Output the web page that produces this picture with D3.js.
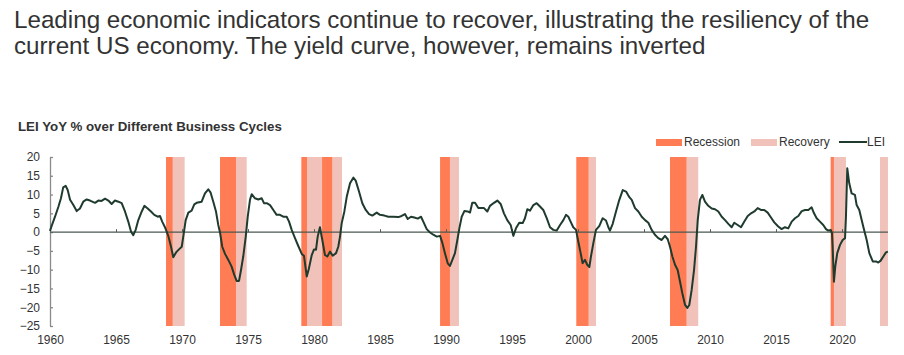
<!DOCTYPE html>
<html>
<head>
<meta charset="utf-8">
<script src="https://cdn.jsdelivr.net/npm/d3@7"></script>
<style>
  html, body { margin: 0; padding: 0; background: #fff; }
  svg { display: block; font-family: "Liberation Sans", Arial, sans-serif; }
</style>
</head>
<body>
<svg id="chart" width="904" height="355"></svg>
<script>
// ---------------- data ----------------
const titleLines = [
  "Leading economic indicators continue to recover, illustrating the resiliency of the",
  "current US economy. The yield curve, however, remains inverted"
];
const subtitle = "LEI YoY % over Different Business Cycles";

const xTicks = [1960, 1965, 1970, 1975, 1980, 1985, 1990, 1995, 2000, 2005, 2010, 2015, 2020];
const yTicks = [20, 15, 10, 5, 0, -5, -10, -15, -20, -25];

const recessionStart = [1968.79, 1972.88, 1979.04, 1980.61, 1989.55, 1999.87, 2006.97, 2019.14];
const recessionEnd   = [1969.30, 1974.09, 1979.47, 1981.39, 1990.30, 2000.81, 2008.23, 2019.39];
const recoveryStart  = [1969.30, 1974.09, 1979.47, 1981.39, 1990.30, 2000.81, 2008.23, 2019.39, 2022.88];
const recoveryEnd    = [1970.20, 1974.90, 1980.61, 1982.12, 1990.98, 2001.36, 2009.11, 2020.30, 2023.48];

const leiDates = [
  1960.0,1960.1,1960.38,1960.63,1960.83,1961.0,1961.19,1961.34,1961.52,1961.77,
  1962.02,1962.27,1962.52,1962.78,1963.03,1963.41,1963.66,1963.91,1964.17,1964.42,
  1964.67,1964.92,1965.18,1965.43,1965.68,1965.93,1966.14,1966.31,1966.49,1966.69,
  1966.95,1967.15,1967.4,1967.65,1967.9,1968.16,1968.33,1968.5,1968.71,1968.96,
  1969.17,1969.34,1969.55,1969.77,1969.98,1970.13,1970.28,1970.48,1970.73,1970.93,
  1971.11,1971.49,1971.74,1971.99,1972.17,1972.37,1972.58,1972.75,1972.88,1973.05,
  1973.26,1973.51,1973.76,1973.96,1974.14,1974.32,1974.47,1974.64,1974.83,1974.98,
  1975.15,1975.28,1975.53,1975.78,1976.04,1976.21,1976.42,1976.67,1976.92,1977.17,
  1977.42,1977.67,1977.93,1978.11,1978.31,1978.56,1978.81,1979.07,1979.24,1979.45,
  1979.62,1979.83,1980.0,1980.15,1980.28,1980.45,1980.63,1980.83,1981.01,1981.21,
  1981.42,1981.67,1981.84,1981.97,1982.1,1982.3,1982.48,1982.73,1982.98,1983.16,
  1983.41,1983.66,1983.92,1984.17,1984.42,1984.75,1985.0,1985.33,1985.63,1986.0,
  1986.39,1986.64,1986.89,1987.1,1987.35,1987.6,1987.86,1988.11,1988.28,1988.54,
  1988.79,1989.04,1989.3,1989.55,1989.72,1989.92,1990.13,1990.3,1990.48,1990.68,
  1990.86,1991.01,1991.19,1991.39,1991.64,1991.82,1991.99,1992.2,1992.45,1992.7,
  1992.88,1993.13,1993.33,1993.64,1993.89,1994.14,1994.39,1994.64,1994.9,1995.1,
  1995.3,1995.55,1995.81,1995.98,1996.16,1996.36,1996.62,1996.87,1997.12,1997.37,
  1997.63,1997.88,1998.13,1998.39,1998.64,1998.89,1999.09,1999.27,1999.44,1999.64,
  1999.85,2000.02,2000.2,2000.35,2000.53,2000.7,2000.86,2000.98,2001.16,2001.36,
  2001.61,2001.87,2002.12,2002.3,2002.42,2002.63,2002.88,2003.13,2003.39,2003.64,
  2003.89,2004.07,2004.32,2004.57,2004.83,2005.08,2005.33,2005.58,2005.83,2006.08,
  2006.34,2006.59,2006.8,2006.97,2007.15,2007.35,2007.55,2007.73,2007.9,2008.11,
  2008.28,2008.43,2008.61,2008.79,2008.94,2009.07,2009.24,2009.42,2009.62,2009.87,
  2010.13,2010.38,2010.63,2010.89,2011.14,2011.39,2011.64,2011.84,2012.1,2012.35,
  2012.6,2012.86,2013.11,2013.36,2013.61,2013.86,2014.11,2014.37,2014.62,2014.87,
  2015.17,2015.43,2015.68,2015.93,2016.19,2016.44,2016.69,2016.95,2017.2,2017.45,
  2017.7,2017.88,2018.08,2018.33,2018.58,2018.79,2018.96,2019.14,2019.24,2019.29,
  2019.39,2019.49,2019.64,2019.85,2020.05,2020.23,2020.3,2020.4,2020.55,2020.73,
  2020.98,2021.11,2021.31,2021.49,2021.67,2021.87,2022.07,2022.33,2022.58,2022.75,
  2022.93,2023.13,2023.33,2023.48
];
const leiValues = [
  0.3,1.4,4.1,6.7,9.0,11.9,12.3,11.2,8.6,7.2,
  5.6,6.3,8.1,8.7,8.4,7.8,8.4,8.3,8.9,8.4,
  7.5,8.4,8.1,7.7,5.5,2.8,0.1,-0.8,0.6,3.2,
  5.5,7.0,6.3,5.5,4.6,4.1,4.3,2.8,1.3,-1.0,
  -3.9,-6.7,-5.4,-4.6,-3.9,-0.4,3.2,5.2,5.7,7.4,
  7.8,8.1,10.3,11.4,10.5,8.1,5.4,1.9,-0.1,-3.9,
  -5.8,-7.4,-9.2,-11.4,-13.0,-13.0,-10.1,-6.5,-1.2,4.1,
  8.6,10.1,9.0,8.7,9.0,7.7,7.7,7.2,5.9,4.6,
  4.6,4.1,4.1,2.8,0.6,-1.6,-3.7,-5.8,-6.3,-11.8,
  -9.6,-6.1,-4.6,-4.7,-1.2,1.3,-2.1,-6.1,-6.5,-5.2,
  -6.3,-5.6,-3.9,-1.2,2.4,5.5,9.4,13.0,14.5,13.7,
  10.8,7.7,5.9,4.8,4.4,5.2,4.6,4.4,4.1,4.1,
  4.0,4.3,4.8,3.5,4.1,3.9,3.6,4.1,2.8,0.8,
  -0.1,-0.7,-1.2,-1.0,-2.8,-5.6,-8.3,-9.0,-7.4,-5.6,
  -2.1,1.0,4.1,5.6,5.5,5.2,7.8,7.8,6.4,6.4,
  6.4,5.5,7.0,7.8,8.4,7.5,5.0,3.2,1.9,-1.0,
  1.0,2.5,2.4,3.7,6.1,5.7,7.2,7.7,6.8,5.9,
  3.7,1.3,0.6,0.4,1.9,3.2,4.6,4.1,2.8,1.3,
  0.6,-2.5,-5.6,-8.3,-7.4,-8.7,-9.3,-6.5,-3.0,0.6,
  1.6,3.7,3.1,1.3,0.4,2.2,5.5,8.6,11.2,10.8,
  9.3,8.6,6.4,5.5,4.1,3.2,2.5,0.6,-0.7,-1.6,
  -2.1,-1.0,-1.9,-3.9,-6.5,-8.7,-10.1,-13.2,-16.2,-19.4,
  -20.2,-19.4,-15.4,-10.1,-3.9,3.2,8.6,9.9,8.1,7.0,
  6.3,6.1,5.5,4.1,3.2,2.2,1.3,2.5,1.9,1.3,
  2.8,4.3,5.0,5.5,6.4,5.9,5.9,5.2,3.9,2.6,
  1.5,0.8,1.3,1.0,2.8,3.7,4.3,5.6,5.9,5.9,
  6.6,5.0,3.7,2.8,1.9,0.8,0.4,0.6,-0.3,-3.9,
  -13.2,-9.2,-5.6,-3.4,-2.1,-1.6,4.1,17.0,13.0,10.3,
  9.9,7.2,5.9,3.2,0.6,-2.1,-5.6,-7.8,-7.8,-8.1,
  -7.6,-6.5,-5.4,-5.2
];

const legendItems = ["Recession", "Recovery", "LEI"];

// ---------------- style ----------------
const COL_REC = "#ff7c55";
const COL_RECOV = "#f0c2ba";
const COL_LINE = "#1f3b2e";
const COL_TEXT = "#333333";

const svg = d3.select("#chart");

// title
svg.append("g").selectAll("text").data(titleLines).join("text")
  .attr("x", 14).attr("y", (d, i) => 28 + i * 26)
  .attr("font-size", 24.2).attr("fill", "#333333")
  .text(d => d);

svg.append("text").attr("x", 18).attr("y", 131)
  .attr("font-size", 13.3).attr("font-weight", "bold").attr("fill", COL_TEXT)
  .text(subtitle);

// scales
const x = d3.scaleLinear().domain([1960, 2020]).range([50, 842]);
const y = d3.scaleLinear().domain([-25, 20]).range([326, 157]);

const plot = svg.append("g");

// bands
const recData = recessionStart.map((s, i) => ({ s, e: recessionEnd[i] }));
const recovData = recoveryStart.map((s, i) => ({ s, e: recoveryEnd[i] }));

plot.append("g").selectAll("rect").data(recovData).join("rect")
  .attr("x", d => x(d.s)).attr("width", d => x(d.e) - x(d.s))
  .attr("y", y(20)).attr("height", y(-25) - y(20))
  .attr("fill", COL_RECOV);
plot.append("g").selectAll("rect").data(recData).join("rect")
  .attr("x", d => x(d.s)).attr("width", d => x(d.e) - x(d.s))
  .attr("y", y(20)).attr("height", y(-25) - y(20))
  .attr("fill", COL_REC);

// y axis (ticks pointing inward)
const yAxis = svg.append("g").attr("transform", `translate(${x(1960)},0)`)
  .call(d3.axisLeft(y).tickValues(yTicks).tickSize(-3).tickSizeOuter(0).tickPadding(10));
yAxis.select(".domain").attr("stroke", "#8a8a8a").attr("stroke-width", 1.3);
yAxis.selectAll(".tick line").attr("stroke", "#8a8a8a").attr("stroke-width", 1.3);
yAxis.selectAll(".tick text").attr("font-size", 12).attr("fill", COL_TEXT)
  .attr("font-family", "Liberation Sans, Arial, sans-serif");

// zero line with small ticks
const zeroAxis = svg.append("g").attr("transform", `translate(0,${y(0)})`)
  .call(d3.axisTop(x).tickValues(xTicks.slice(1)).tickSize(3).tickSizeOuter(0).tickFormat(""));
zeroAxis.select(".domain").remove();
zeroAxis.selectAll(".tick line").attr("stroke", "#56635c").attr("stroke-width", 1);
svg.append("line")
  .attr("x1", x(1960)).attr("x2", x(2023.48))
  .attr("y1", y(0)).attr("y2", y(0))
  .attr("stroke", "#4a5851").attr("stroke-width", 1.3);

// x labels
const xAxis = svg.append("g").attr("transform", `translate(0,${y(-25)})`)
  .call(d3.axisBottom(x).tickValues(xTicks).tickSize(0).tickPadding(9).tickFormat(d3.format("d")));
xAxis.select(".domain").remove();
xAxis.selectAll(".tick text").attr("font-size", 12).attr("fill", COL_TEXT)
  .attr("font-family", "Liberation Sans, Arial, sans-serif");

// LEI line
const leiData = leiDates.map((d, i) => ({ d, v: leiValues[i] }));
svg.append("path").datum(leiData)
  .attr("fill", "none").attr("stroke", COL_LINE).attr("stroke-width", 2)
  .attr("stroke-linejoin", "round")
  .attr("d", d3.line().x(d => x(d.d)).y(d => y(d.v)));

// legend
const lg = svg.append("g").attr("font-size", 12).attr("fill", COL_TEXT);
lg.append("rect").attr("x", 656).attr("y", 139).attr("width", 26).attr("height", 7).attr("fill", COL_REC);
lg.append("text").attr("x", 684).attr("y", 146).text(legendItems[0]);
lg.append("rect").attr("x", 751).attr("y", 139).attr("width", 26).attr("height", 7).attr("fill", COL_RECOV);
lg.append("text").attr("x", 779).attr("y", 146).text(legendItems[1]);
lg.append("line").attr("x1", 839).attr("x2", 867).attr("y1", 142).attr("y2", 142)
  .attr("stroke", COL_LINE).attr("stroke-width", 2);
lg.append("text").attr("x", 867).attr("y", 146).text(legendItems[2]);
</script>
</body>
</html>
